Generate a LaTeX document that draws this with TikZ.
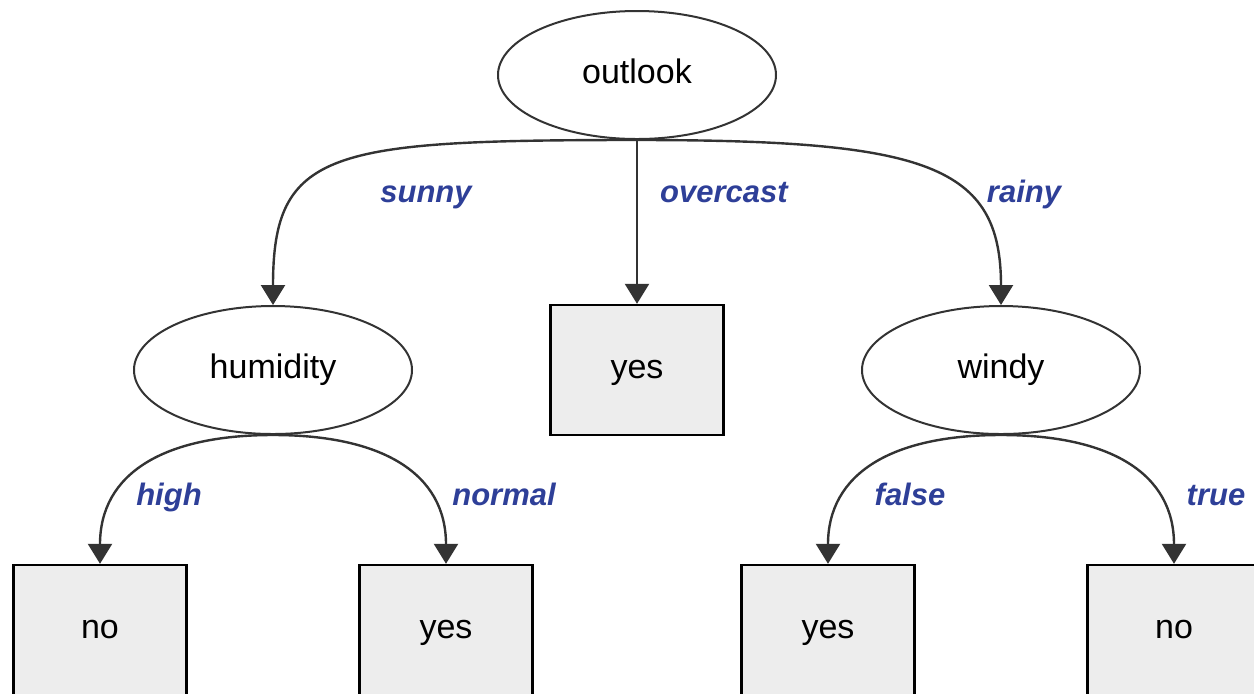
\documentclass[tikz,border=0pt]{standalone}
\usepackage{fontspec}
\setmainfont{Liberation Sans}
\usetikzlibrary{positioning,arrows.meta,shapes.geometric}
\definecolor{edgegray}{HTML}{333333}
\definecolor{labelblue}{HTML}{2E3F98}
\definecolor{leafgray}{HTML}{EDEDED}

\begin{document}
\begin{tikzpicture}[
  on grid,
  node distance=147.5pt and 182pt,
  test/.style={draw=edgegray,ellipse,fill=white,line width=1pt,minimum width=139pt,minimum height=64pt,
    text height=12pt,text depth=3.5pt,font=\fontsize{17}{20}\selectfont},
  leaf/.style={draw=black,fill=leafgray,line width=1.2pt,minimum width=86.5pt,minimum height=65pt,
    text height=12pt,text depth=3.5pt,font=\fontsize{17}{20}\selectfont},
  ar/.style={-{Triangle[length=10pt,width=12pt]},line width=1.2pt,draw=edgegray},
  lab/.style={text height=11pt,text depth=3pt,font=\fontsize{15.5}{18}\selectfont\bfseries\itshape,text=labelblue}]
\useasboundingbox (0,0) rectangle (627pt,-346.5pt);
% tests
\node[test] (outlook) at (318.5pt,-37.5pt) {outlook};
\node[test,below left=of outlook] (humidity) {humidity};
\node[leaf,below=of outlook] (yesM) {yes};
\node[test,below right=of outlook] (windy) {windy};
% leaves
\node[leaf,below left=130pt and 86.5pt of humidity] (noA) {no};
\node[leaf,below right=130pt and 86.5pt of humidity] (yesA) {yes};
\node[leaf,below left=130pt and 86.5pt of windy] (yesB) {yes};
\node[leaf,below right=130pt and 86.5pt of windy] (noB) {no};
% branches
\draw[ar] (outlook.south) .. controls +(-154pt,0) and +(0,77.5pt) .. (humidity.north);
\draw[ar] (outlook.south)--(yesM.north);
\draw[ar] (outlook.south) .. controls +(145pt,0) and +(0,70pt) .. (windy.north);
\draw[ar] (humidity.south) .. controls +(-55pt,0) and +(0,45pt) .. (noA.north);
\draw[ar] (humidity.south) .. controls +(55pt,0) and +(0,45pt) .. (yesA.north);
\draw[ar] (windy.south) .. controls +(-55pt,0) and +(0,45pt) .. (yesB.north);
\draw[ar] (windy.south) .. controls +(55pt,0) and +(0,45pt) .. (noB.north);
% branch labels
\node[lab] (sunny) at (213pt,-97pt) {sunny};
\node[lab] (overcast) at (362pt,-97pt) {overcast};
\node[lab] (rainy) at (512pt,-97pt) {rainy};
\node[lab] (high) at (84.5pt,-248.5pt) {high};
\node[lab] (normal) at (252pt,-248.5pt) {normal};
\node[lab] (false) at (455pt,-248.5pt) {false};
\node[lab] (true) at (608pt,-248.5pt) {true};
\end{tikzpicture}
\end{document}
